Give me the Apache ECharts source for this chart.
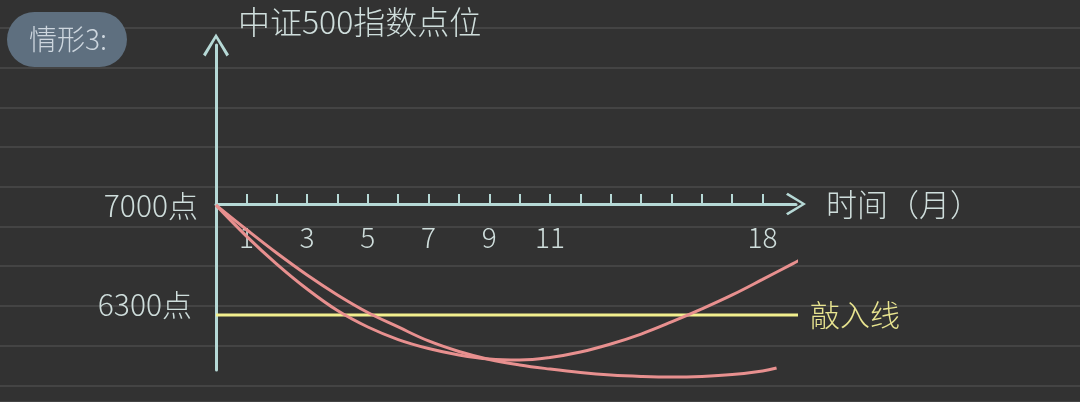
<!DOCTYPE html>
<html>
<head>
<meta charset="utf-8">
<script src="https://cdn.jsdelivr.net/npm/echarts@6/dist/echarts.min.js"></script>
<style>
html,body{margin:0;padding:0;background:#323232;}
#c{width:1080px;height:402px;}
</style>
</head>
<body>
<div id="c"></div>
<script>
// ---- data ----
const monthTicks = [1,2,3,4,5,6,7,8,9,10,11,12,13,14,15,16,17,18];
const monthLabels = [1,3,5,7,9,11,18];
const levelLabels = [7000, 6300];
const knockIn = 6300;
// curve A (falls faster, bottoms near month 10, recovers above 6300)
const curveAMonths = [0,1,2,3,4,5,6,7,8,9,10,11,12,13,14,15,16,17,18,19,19.28];
const curveAValues = [7000,6803,6625,6466,6329,6224,6144,6087,6046,6020,6014,6030,6065,6116,6179,6256,6339,6428,6527,6628,6657];
// curve B (falls slower, stays low)
const curveBMonths = [0,1,2,3,4,5,6,7,8,9,10,11,12,13,14,15,16,17,18,18.46];
const curveBValues = [7000,6845,6695,6555,6428,6316,6224,6135,6068,6017,5982,5956,5934,5918,5909,5905,5909,5921,5944,5963];
const knockInMonths = [0, 19.22];

const pair = (xs, ys) => xs.map((x, i) => [x, ys[i]]);

const axisColor = '#b6d9d6';
const textColor = '#cfdedc';
const font = '"Noto Sans CJK SC", "Noto Sans", sans-serif';
const chevron = 'path://M13,0 L26,21 L23.5,23 L13,5 L2.5,23 L0,21 Z';

const chart = echarts.init(document.getElementById('c'), null, {renderer: 'canvas'});
chart.setOption({
  animation: false,
  backgroundColor: '#323232',
  textStyle: {fontFamily: font},
  title: {
    text: '情形3:',
    left: 7, top: 12,
    backgroundColor: '#5e6f7f',
    borderRadius: 28,
    padding: [10, 20, 10, 22],
    textStyle: {color: '#cdd6de', fontSize: 28, fontWeight: 300, lineHeight: 35, fontFamily: font}
  },
  grid: [
    {left: 216, right: 284, top: 45, bottom: 32},
    {left: 216, right: 284, top: 45, bottom: 198},
    {left: 0, right: 0, top: 28, bottom: 0, z: 0}
  ],
  xAxis: [
    {gridIndex: 0, type: 'value', min: 0, max: 19.1, show: false},
    {
      gridIndex: 1, type: 'value', min: 0, max: 19.1, position: 'bottom',
      axisLine: {show: true, symbol: ['none', chevron], symbolSize: [26, 20],
        lineStyle: {color: axisColor, width: 3}},
      axisTick: {show: true, inside: true, length: 10, customValues: monthTicks,
        lineStyle: {color: axisColor, width: 2}},
      axisLabel: {show: true, customValues: monthLabels, margin: 19,
        color: textColor, fontSize: 28, fontWeight: 300, fontFamily: font},
      splitLine: {show: false},
      name: '时间（月）', nameLocation: 'end', nameGap: 30,
      nameTextStyle: {color: textColor, fontSize: 31, fontWeight: 300, align: 'left',
        verticalAlign: 'middle', padding: [22, 0, 0, 0], fontFamily: font}
    },
    {gridIndex: 2, type: 'value', min: 0, max: 1, show: false}
  ],
  yAxis: [
    {
      gridIndex: 0, type: 'value', min: 5950, max: 8020,
      axisLine: {show: true, symbol: ['none', chevron], symbolSize: [26, 24],
        lineStyle: {color: axisColor, width: 3}},
      axisTick: {show: false},
      splitLine: {show: false},
      axisLabel: {
        show: true, customValues: levelLabels, margin: 18,
        formatter: v => v === 6300 ? '{up|' + v + '点}' : '{n|' + v + '点}',
        rich: {
          n: {color: textColor, fontSize: 30, fontWeight: 300, fontFamily: font},
          up: {color: textColor, fontSize: 30, fontWeight: 300, fontFamily: font, padding: [0, 6, 20, 0]}
        }
      },
      name: '中证500指数点位', nameLocation: 'end', nameGap: 23,
      nameTextStyle: {color: textColor, fontSize: 32, fontWeight: 300, align: 'left',
        verticalAlign: 'middle', padding: [0, 0, 0, 22], fontFamily: font}
    },
    {gridIndex: 1, type: 'value', min: 0, max: 1, show: false},
    {
      gridIndex: 2, type: 'value', min: 0, max: 374, interval: 39.7, inverse: true,
      axisLine: {show: false}, axisTick: {show: false}, axisLabel: {show: false},
      splitLine: {show: true, lineStyle: {color: '#4b4b4b', width: 1.5}}
    }
  ],
  series: [
    {
      type: 'line', xAxisIndex: 0, yAxisIndex: 0, data: pair(knockInMonths, [knockIn, knockIn]),
      showSymbol: false, clip: false, z: 3,
      lineStyle: {color: '#f2ef8e', width: 3},
      endLabel: {show: true, formatter: '敲入线', color: '#e9e590', fontSize: 30, fontWeight: 300,
        distance: 12, fontFamily: font}
    },
    {
      type: 'line', xAxisIndex: 0, yAxisIndex: 0, data: pair(curveAMonths, curveAValues),
      smooth: 0.4, showSymbol: false, clip: false, z: 4,
      lineStyle: {color: '#e8908f', width: 3}
    },
    {
      type: 'line', xAxisIndex: 0, yAxisIndex: 0, data: pair(curveBMonths, curveBValues),
      smooth: 0.4, showSymbol: false, clip: false, z: 4,
      lineStyle: {color: '#e8908f', width: 3}
    }
  ]
});
</script>
</body>
</html>
